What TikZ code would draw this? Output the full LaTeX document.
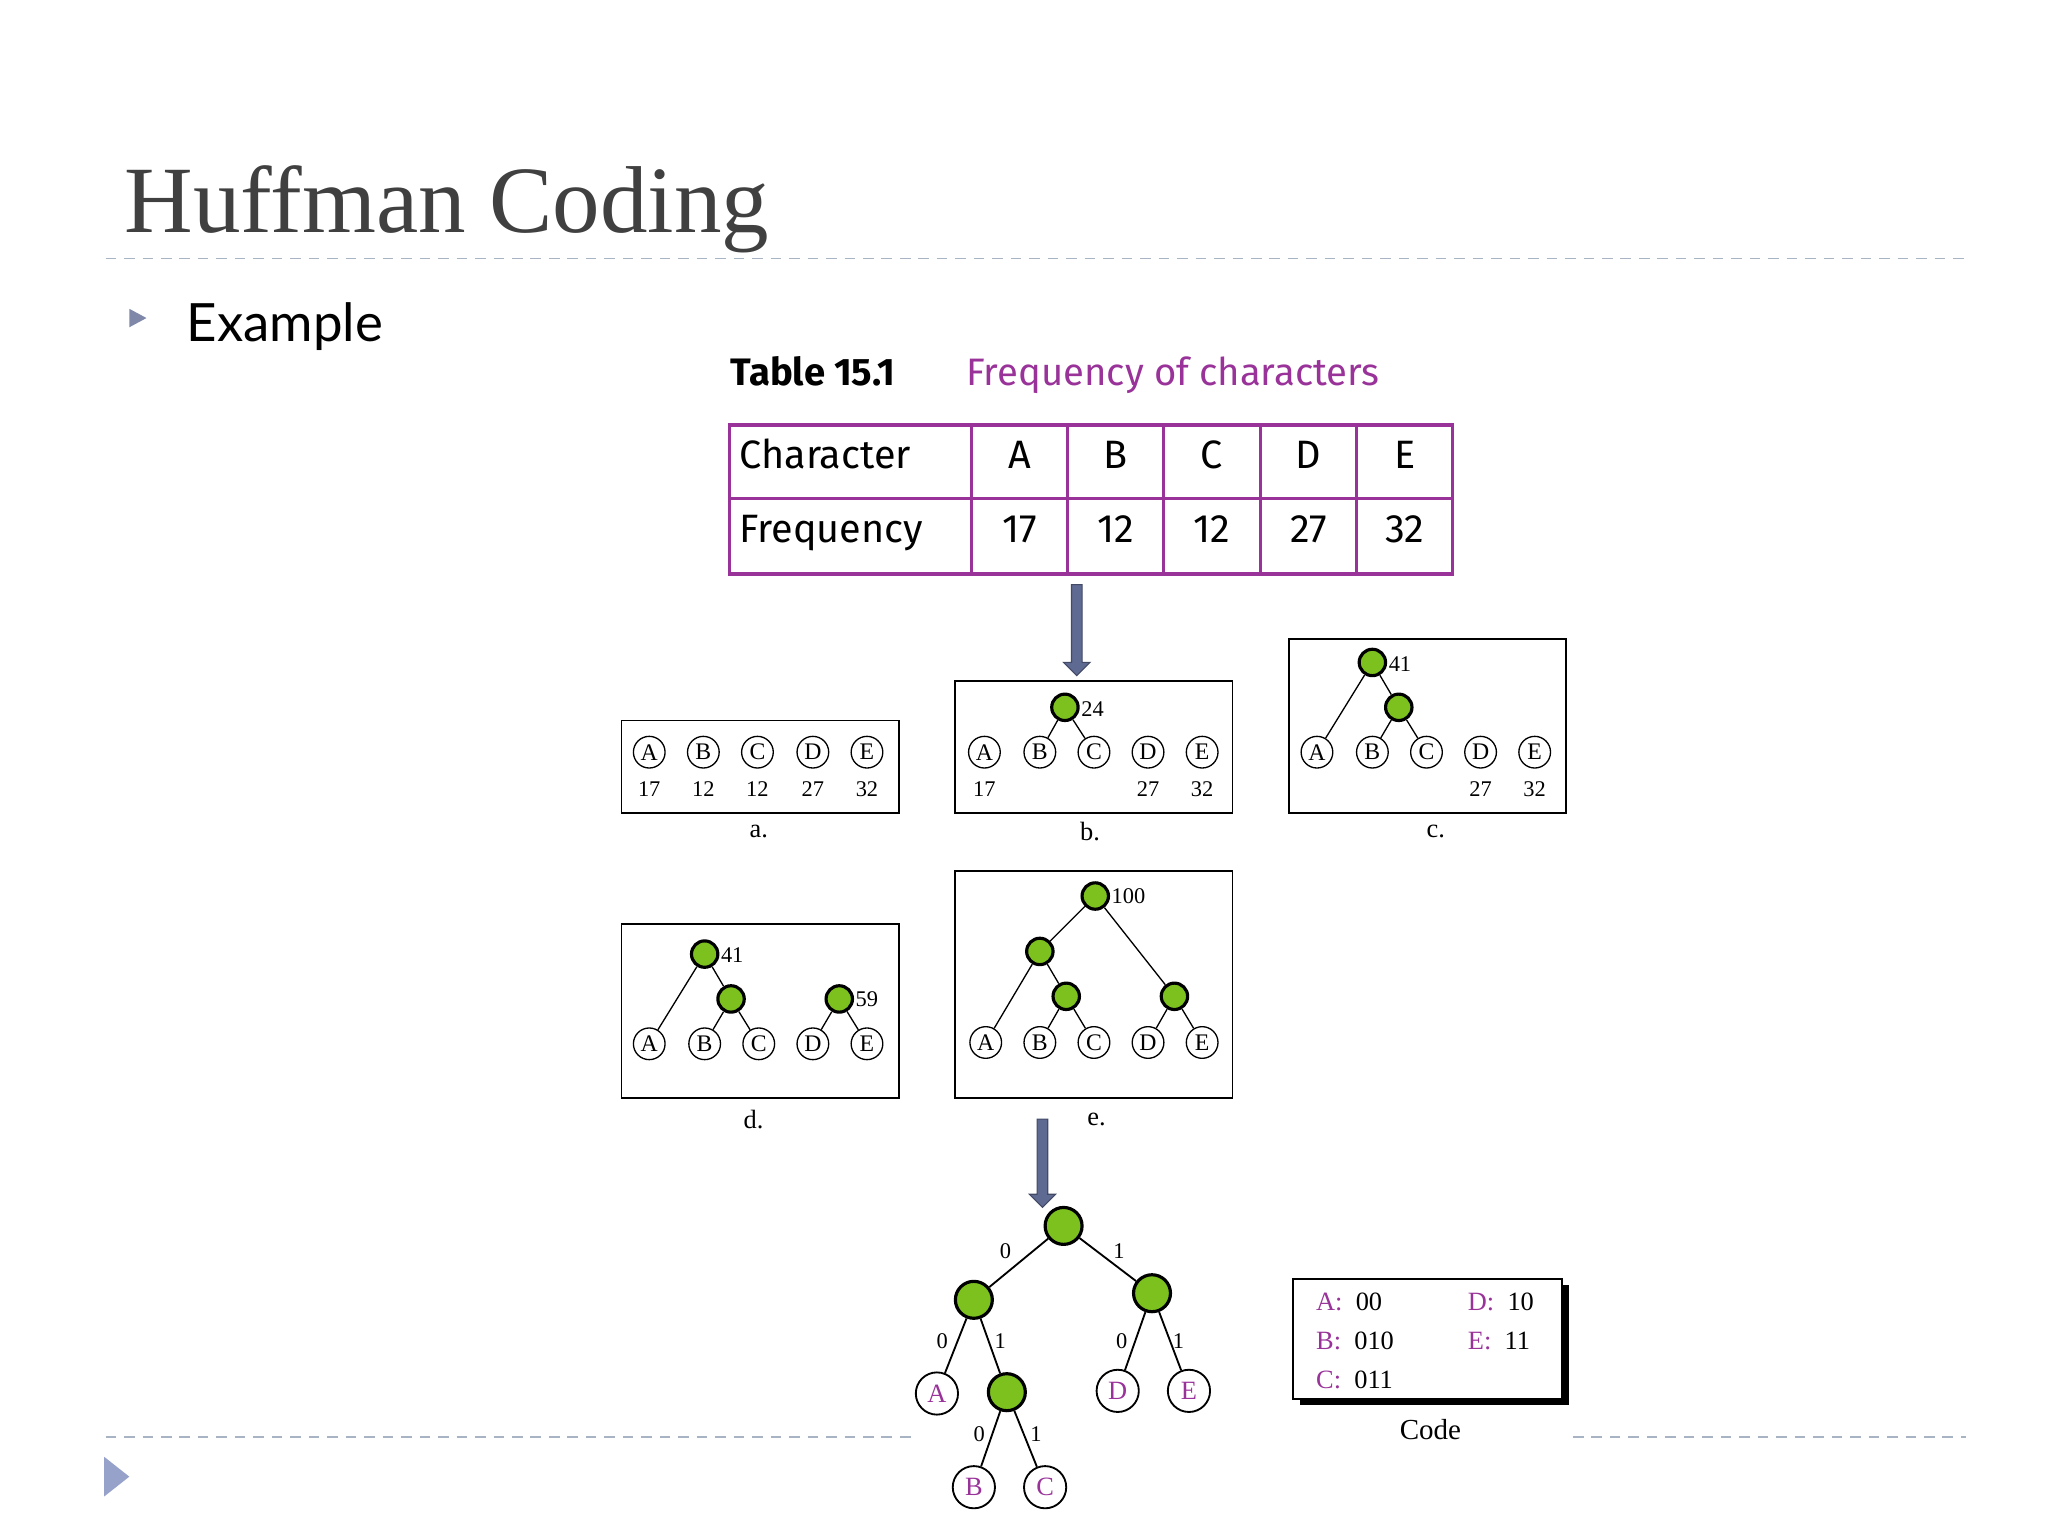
\documentclass[tikz,border=0pt]{standalone}
\usepackage{fontspec}
\setmainfont{Liberation Serif}
\newfontfamily\ttl{Liberation Serif}
\newfontfamily\gs{Lato}
\newfontfamily\tb{Fira Sans}
\definecolor{pur}{HTML}{993399}
\definecolor{arr}{HTML}{5F6A92}
\definecolor{grn}{HTML}{7DC11F}
\definecolor{dsh}{HTML}{A8B4C4}
\begin{document}
\begin{tikzpicture}[x=0.5pt,y=-0.5pt,
 lf/.style={circle,draw,line width=0.5pt,inner sep=0pt,minimum size=12pt,font=\fontsize{9}{9}\selectfont},
 gn/.style={circle,draw,line width=1.2pt,fill=grn,inner sep=0pt,minimum size=10pt},
 blf/.style={circle,draw,line width=0.7pt,inner sep=0pt,minimum size=16pt,text=pur,font=\fontsize{10}{10}\selectfont},
 bgn/.style={circle,draw,line width=1.2pt,fill=grn,inner sep=0pt,minimum size=14pt},
 num/.style={font=\fontsize{8.5}{9}\selectfont,inner sep=1pt},
 lbl/.style={font=\fontsize{10}{10}\selectfont},
 box/.style={draw,line width=0.7pt},
 e/.style={line width=0.5pt},
 bar/.style={draw=arr!70!black,fill=arr,line width=0.4pt},
 dl/.style={dsh,line width=0.6pt,dash pattern=on 4pt off 3pt}]
\useasboundingbox (0,0) rectangle (1552,1164);
% title and separators
\node[anchor=base west,inner sep=0,font=\ttl\fontsize{36}{36}\selectfont,text=black!75] (title) at (94,176) {Huffman Coding};
\draw[dl] (80,196) -- (1490,196);
\draw[dl] (80,1089) -- (690,1089);
\draw[dl] (1192,1089) -- (1490,1089);
\fill[arr!80!white] (98,234) -- (111,241) -- (98,248) -- cycle;
\fill[dsh!90!blue] (79,1104) -- (98,1119) -- (79,1134) -- cycle;
\node[anchor=base west,inner sep=0,font=\gs\fontsize{20}{20}\selectfont] (ex) at (141,259) {Example};
% table
\node[anchor=base west,inner sep=0,font=\tb\bfseries\fontsize{14.5}{15}\selectfont] (tc) at (553,292) {Table 15.1};
\node[anchor=base west,inner sep=0,text=pur,font=\tb\fontsize{14.5}{15}\selectfont] (tt) at (732,292) {Frequency of characters};
\draw[pur,line width=1.2pt] (553,322) rectangle (1101,435);
\draw[pur,line width=1.2pt] (553,378) -- (1101,378);
\foreach \x in {736,809,882,955,1028} \draw[pur,line width=1.2pt] (\x,322) -- (\x,435);
\begin{scope}[font=\tb\fontsize{15}{15}\selectfont]
\node[anchor=base west,inner sep=0] (h0) at (560,355) {Character};
\node[anchor=base west,inner sep=0] (f0) at (560,411) {Frequency};
\foreach \x/\c/\f [count=\i] in {772.5/A/17,845.5/B/12,918.5/C/12,991.5/D/27,1064.5/E/32}{
 \node[anchor=base,inner sep=0] (h\i) at (\x,355) {\c};
 \node[anchor=base,inner sep=0] (f\i) at (\x,411) {\f};}
\end{scope}
% arrow 1
\draw[bar] (812,443) -- (820,443) -- (820,502) -- (826,502) -- (816,512) -- (806,502) -- (812,502) -- cycle;
% box a
\draw[box] (471,546) rectangle (681,616);
\foreach \x/\c/\f in {492/A/17,533/B/12,574/C/12,616/D/27,657/E/32}{
 \node[lf] (a\c) at (\x,570) {\c}; \node[num] at (\x,598) {\f};}
\node[lbl] at (575,630) {a.};
% box b
\draw[box] (724,516) rectangle (934,616);
\foreach \x/\c in {746/A,788/B,829/C,870/D,911/E}{\node[lf] (b\c) at (\x,570) {\c};}
\node[num] at (746,598) {17};\node[num] at (870,598) {27};\node[num] at (911,598) {32};
\node[gn] (b24) at (807,536) {}; \node[num,anchor=west] at (817,537) {24};
\draw[e] (b24) -- (bB); \draw[e] (b24) -- (bC);
\node[lbl] at (826,630) {b.};
% box c
\draw[box] (977,484) rectangle (1187,616);
\foreach \x/\c in {998/A,1040/B,1081/C,1122/D,1163/E}{\node[lf] (c\c) at (\x,570) {\c};}
\node[num] at (1122,598) {27};\node[num] at (1163,598) {32};
\node[gn] (c41) at (1040,502) {}; \node[num,anchor=west] at (1050,503) {41};
\node[gn] (c24) at (1060,536) {};
\draw[e] (c41) -- (cA); \draw[e] (c41) -- (c24); \draw[e] (c24) -- (cB); \draw[e] (c24) -- (cC);
\node[lbl] at (1088,630) {c.};
% box d
\draw[box] (471,700) rectangle (681,832);
\foreach \x/\c in {492/A,534/B,575/C,616/D,657/E}{\node[lf] (d\c) at (\x,791) {\c};}
\node[gn] (d41) at (534,723) {}; \node[num,anchor=west] at (544,724) {41};
\node[gn] (d24) at (554,757) {};
\node[gn] (d59) at (636,757) {}; \node[num,anchor=west] at (646,757) {59};
\draw[e] (d41) -- (dA); \draw[e] (d41) -- (d24); \draw[e] (d24) -- (dB); \draw[e] (d24) -- (dC);
\draw[e] (d59) -- (dD); \draw[e] (d59) -- (dE);
\node[lbl] at (571,848) {d.};
% box e
\draw[box] (724,660) rectangle (934,832);
\foreach \x/\c in {747/A,788/B,829/C,870/D,911/E}{\node[lf] (e\c) at (\x,790) {\c};}
\node[gn] (e100) at (830,679) {}; \node[num,anchor=west] at (840,679) {100};
\node[gn] (e41) at (788,721) {};
\node[gn] (e24) at (808,755) {};
\node[gn] (e59) at (890,755) {};
\draw[e] (e100) -- (e41); \draw[e] (e100) -- (e59); \draw[e] (e41) -- (eA); \draw[e] (e41) -- (e24);
\draw[e] (e24) -- (eB); \draw[e] (e24) -- (eC); \draw[e] (e59) -- (eD); \draw[e] (e59) -- (eE);
\node[lbl] at (831,848) {e.};
% arrow 2
\draw[bar] (786,848) -- (794,848) -- (794,905) -- (800,905) -- (790,915) -- (780,905) -- (786,905) -- cycle;
% final tree
\node[bgn] (r) at (806,929) {};
\node[bgn] (l) at (738,985) {};
\node[bgn] (rr) at (873,980) {};
\node[blf] (A) at (710,1056) {A};
\node[bgn] (lr) at (763,1055) {};
\node[blf] (D) at (847,1054) {D};
\node[blf] (E) at (901,1054) {E};
\node[blf] (B) at (738,1127) {B};
\node[blf] (C) at (792,1127) {C};
\draw[line width=0.7pt] (r) -- (l); \draw[line width=0.7pt] (r) -- (rr);
\draw[line width=0.7pt] (l) -- (A); \draw[line width=0.7pt] (l) -- (lr);
\draw[line width=0.7pt] (rr) -- (D); \draw[line width=0.7pt] (rr) -- (E);
\draw[line width=0.7pt] (lr) -- (B); \draw[line width=0.7pt] (lr) -- (C);
\foreach \x/\y/\t in {762/948/0,848/948/1,714/1016/0,758/1016/1,850/1016/0,893/1016/1,742/1087/0,785/1087/1}
 \node[num] at (\x,\y) {\t};
% code box
\fill[black] (985,974) rectangle (1189,1065);
\draw[line width=0.8pt,fill=white] (980,969) rectangle (1184,1060);
\begin{scope}[font=\fontsize{10}{10}\selectfont]
\node[anchor=base west,inner sep=0] at (997,993) {\textcolor{pur}{A:}\ \ 00};
\node[anchor=base west,inner sep=0] at (1112,993) {\textcolor{pur}{D:}\ \ 10};
\node[anchor=base west,inner sep=0] at (997,1023) {\textcolor{pur}{B:}\ \ 010};
\node[anchor=base west,inner sep=0] at (1112,1023) {\textcolor{pur}{E:}\ \ 11};
\node[anchor=base west,inner sep=0] at (997,1052) {\textcolor{pur}{C:}\ \ 011};
\end{scope}
\node[font=\fontsize{11}{11}\selectfont] at (1084,1083) {Code};
\end{tikzpicture}
\end{document}
